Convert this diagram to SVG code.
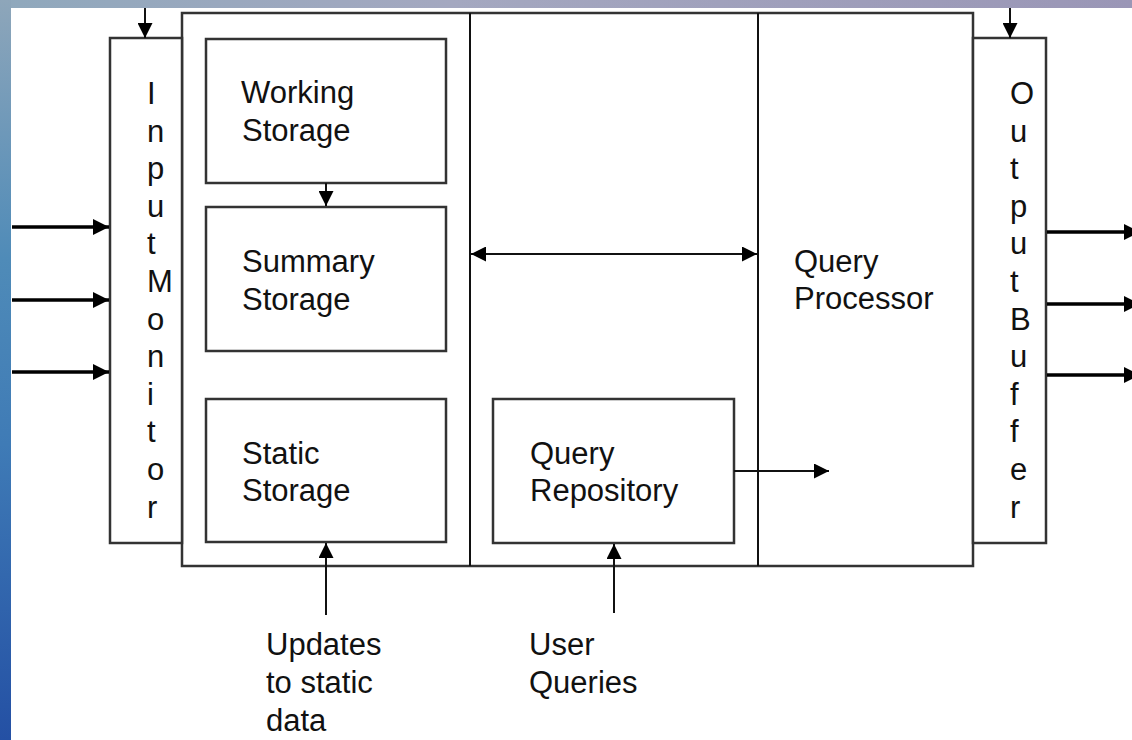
<svg xmlns="http://www.w3.org/2000/svg" width="1132" height="740" viewBox="0 0 1132 740">
<style>
.box{fill:#fff;stroke:#333;stroke-width:2.5}
.t{font-family:"Liberation Sans",Arial,sans-serif;font-size:31px;fill:#111}
.ln{stroke:#111;stroke-width:2;fill:none}
.lnb{stroke:#000;stroke-width:3.5;fill:none}
</style>
<defs>
<marker id="ah" viewBox="0 0 10 10" refX="10" refY="5" markerWidth="15" markerHeight="15" markerUnits="userSpaceOnUse" orient="auto-start-reverse">
<path d="M0,0 L10,5 L0,10 z" fill="#000"/>
</marker>
<marker id="ahb" viewBox="0 0 10 10" refX="10" refY="5" markerWidth="16" markerHeight="16" markerUnits="userSpaceOnUse" orient="auto">
<path d="M0,0 L10,5 L0,10 z" fill="#000"/>
</marker>
<linearGradient id="lg" x1="0" y1="0" x2="0" y2="1">
<stop offset="0" stop-color="#8ea6ba"/>
<stop offset="0.35" stop-color="#4f8bb8"/>
<stop offset="0.6" stop-color="#3f7bb6"/>
<stop offset="1" stop-color="#2450a4"/>
</linearGradient>
<linearGradient id="tg" x1="0" y1="0" x2="1" y2="0">
<stop offset="0" stop-color="#8fa8bc"/>
<stop offset="0.4" stop-color="#a4a8c0"/>
<stop offset="1" stop-color="#9a96b6"/>
</linearGradient>
</defs>
<rect x="0" y="0" width="1132" height="740" fill="#fff"/>
<rect x="0" y="0" width="1132" height="8" fill="url(#tg)"/>
<rect x="0" y="0" width="11" height="740" fill="url(#lg)"/>

<g id="main-frame">
<rect class="box" x="182" y="13" width="791" height="553"/>
<line class="ln" x1="470" y1="13" x2="470" y2="566" stroke="#333" stroke-width="2.5"/>
<line class="ln" x1="758" y1="13" x2="758" y2="566" stroke="#333" stroke-width="2.5"/>
</g>

<g id="input-monitor">
<rect class="box" x="110" y="38" width="72" height="505"/>
<g class="t">
<text x="147" y="104">I</text>
<text x="147" y="141.6">n</text>
<text x="147" y="179.2">p</text>
<text x="147" y="216.8">u</text>
<text x="147" y="254.4">t</text>
<text x="147" y="292">M</text>
<text x="147" y="329.6">o</text>
<text x="147" y="367.2">n</text>
<text x="147" y="404.8">i</text>
<text x="147" y="442.4">t</text>
<text x="147" y="480">o</text>
<text x="147" y="517.6">r</text>
</g>
</g>

<g id="output-buffer">
<rect class="box" x="973" y="38" width="73" height="505"/>
<g class="t">
<text x="1010" y="104">O</text>
<text x="1010" y="141.6">u</text>
<text x="1010" y="179.2">t</text>
<text x="1010" y="216.8">p</text>
<text x="1010" y="254.4">u</text>
<text x="1010" y="292">t</text>
<text x="1010" y="329.6">B</text>
<text x="1010" y="367.2">u</text>
<text x="1010" y="404.8">f</text>
<text x="1010" y="442.4">f</text>
<text x="1010" y="480">e</text>
<text x="1010" y="517.6">r</text>
</g>
</g>

<g id="working-storage">
<rect class="box" x="206" y="39" width="240" height="144"/>
<text class="t" x="241" y="103">Working</text>
<text class="t" x="242" y="141">Storage</text>
</g>

<g id="summary-storage">
<rect class="box" x="206" y="207" width="240" height="144"/>
<text class="t" x="242" y="272">Summary</text>
<text class="t" x="242" y="310">Storage</text>
</g>

<g id="static-storage">
<rect class="box" x="206" y="399" width="240" height="143"/>
<text class="t" x="242" y="464">Static</text>
<text class="t" x="242" y="501">Storage</text>
</g>

<g id="query-repository">
<rect class="box" x="493" y="399" width="241" height="144"/>
<text class="t" x="530" y="464">Query</text>
<text class="t" x="530" y="501">Repository</text>
</g>

<g id="query-processor">
<text class="t" x="794" y="272">Query</text>
<text class="t" x="794" y="309">Processor</text>
</g>

<g id="label-updates">
<text class="t" x="266" y="655">Updates</text>
<text class="t" x="266" y="693">to static</text>
<text class="t" x="266" y="731">data</text>
</g>

<g id="label-user-queries">
<text class="t" x="529" y="655">User</text>
<text class="t" x="529" y="693">Queries</text>
</g>

<g id="connectors">
<line class="ln" x1="145" y1="8" x2="145" y2="38" marker-end="url(#ah)"/>
<line class="ln" x1="1010" y1="8" x2="1010" y2="38" marker-end="url(#ah)"/>
<line class="lnb" x1="12" y1="227" x2="109" y2="227" marker-end="url(#ahb)"/>
<line class="lnb" x1="12" y1="300" x2="109" y2="300" marker-end="url(#ahb)"/>
<line class="lnb" x1="12" y1="372" x2="109" y2="372" marker-end="url(#ahb)"/>
<line class="lnb" x1="1047" y1="232" x2="1140" y2="232" marker-end="url(#ahb)"/>
<line class="lnb" x1="1047" y1="304" x2="1140" y2="304" marker-end="url(#ahb)"/>
<line class="lnb" x1="1047" y1="375" x2="1140" y2="375" marker-end="url(#ahb)"/>
<line class="ln" x1="326" y1="183" x2="326" y2="206" marker-end="url(#ah)"/>
<line class="ln" x1="471" y1="254" x2="757" y2="254" marker-start="url(#ah)" marker-end="url(#ah)"/>
<line class="ln" x1="734" y1="471" x2="829" y2="471" marker-end="url(#ah)"/>
<line class="ln" x1="326" y1="615" x2="326" y2="543" marker-end="url(#ah)"/>
<line class="ln" x1="614" y1="613" x2="614" y2="544" marker-end="url(#ah)"/>
</g>
</svg>
